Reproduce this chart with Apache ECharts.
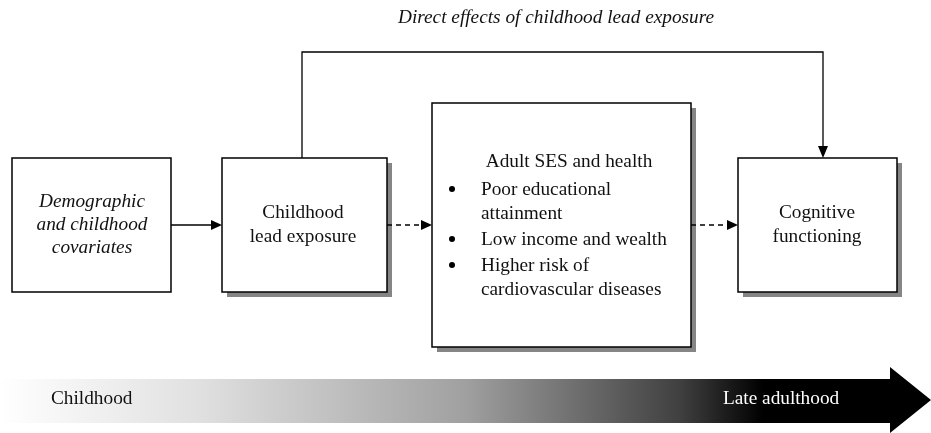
<!DOCTYPE html>
<html>
<head>
<meta charset="utf-8">
<script src="https://cdn.jsdelivr.net/npm/echarts@6/dist/echarts.min.js"></script>
<style>
  html, body { margin: 0; padding: 0; background: #fff; }
  #main { width: 931px; height: 433px; }
</style>
</head>
<body>
<div id="main"></div>
<script>
// diagram texts
const directLabel = 'Direct effects of childhood lead exposure';
const covariateLines = ['Demographic', 'and childhood', 'covariates'];
const exposureLines = ['Childhood', 'lead exposure'];
const mediatorHeading = 'Adult SES and health';
const mediatorBullets = [
  ['Poor educational', 'attainment'],
  ['Low income and wealth'],
  ['Higher risk of', 'cardiovascular diseases']
];
const outcomeLines = ['Cognitive', 'functioning'];
const timelineLabels = ['Childhood', 'Late adulthood'];

const chart = echarts.init(document.getElementById('main'));
const serif = '"Liberation Serif", "DejaVu Serif", serif';
const fs = '19.3px ';
const g = [];

function box(x, y, w, h, shadow) {
  if (shadow) {
    g.push({ type: 'rect', shape: { x: x + 5, y: y + 5, width: w, height: h }, style: { fill: '#858585' } });
  }
  g.push({ type: 'rect', shape: { x: x, y: y, width: w, height: h }, style: { fill: '#fff', stroke: '#000', lineWidth: 1.5 } });
}
function lines(arr, cx, y0, step, italic) {
  arr.forEach((t, i) => {
    g.push({
      type: 'text',
      style: {
        text: t, x: cx, y: y0 + i * step, textAlign: 'center', textVerticalAlign: 'middle',
        font: (italic ? 'italic ' : '') + fs + serif, fill: '#111'
      }
    });
  });
}
function arrowRight(x1, x2, y, dashed) {
  g.push({ type: 'line', shape: { x1: x1, y1: y, x2: x2 - 10, y2: y }, style: { stroke: '#000', lineWidth: 1.3, lineDash: dashed ? [5, 4] : null } });
  g.push({ type: 'polygon', shape: { points: [[x2 - 11, y - 5], [x2, y], [x2 - 11, y + 5]] }, style: { fill: '#000' } });
}

// top connector: direct effect
g.push({ type: 'polyline', shape: { points: [[302, 158], [302, 52], [823, 52], [823, 147]] }, style: { stroke: '#000', lineWidth: 1.3, fill: null } });
g.push({ type: 'polygon', shape: { points: [[818, 146], [823, 158], [828, 146]] }, style: { fill: '#000' } });
g.push({ type: 'text', style: { text: directLabel, x: 556, y: 18, textAlign: 'center', textVerticalAlign: 'middle', font: 'italic ' + fs + serif, fill: '#111' } });

// boxes
box(12, 158, 159, 134, false);
lines(covariateLines, 92, 202, 23, true);
box(222, 158, 165, 134, true);
lines(exposureLines, 303, 213, 24, false);
box(432, 103, 259, 244, true);
box(738, 158, 159, 134, true);
lines(outcomeLines, 817, 213, 24, false);

// mediator box content
lines([mediatorHeading], 569, 162, 0, false);
let y = 190;
mediatorBullets.forEach(b => {
  g.push({ type: 'circle', shape: { cx: 452, cy: y - 1, r: 3 }, style: { fill: '#000' } });
  b.forEach(t => {
    g.push({ type: 'text', style: { text: t, x: 481, y: y, textAlign: 'left', textVerticalAlign: 'middle', font: fs + serif, fill: '#111' } });
    y += 24;
  });
  y += 2;
});

// arrows between boxes
arrowRight(171, 222, 225, false);
arrowRight(387, 432, 225, true);
arrowRight(691, 738, 225, true);

// timeline arrow
g.push({
  type: 'polygon',
  shape: { points: [[0, 379], [890, 379], [890, 367], [931, 400], [890, 433], [890, 423], [0, 423]] },
  style: {
    fill: new echarts.graphic.LinearGradient(0, 0, 1, 0, [
      { offset: 0, color: '#ffffff' },
      { offset: 0.215, color: '#e0e0e0' },
      { offset: 0.5, color: '#a0a0a0' },
      { offset: 0.73, color: '#404040' },
      { offset: 0.82, color: '#000000' },
      { offset: 1, color: '#000000' }
    ])
  }
});
g.push({ type: 'text', style: { text: timelineLabels[0], x: 51, y: 399, textAlign: 'left', textVerticalAlign: 'middle', font: fs + serif, fill: '#111' } });
g.push({ type: 'text', style: { text: timelineLabels[1], x: 723, y: 399, textAlign: 'left', textVerticalAlign: 'middle', font: fs + serif, fill: '#fff' } });

chart.setOption({ animation: false, graphic: g });
</script>
</body>
</html>
